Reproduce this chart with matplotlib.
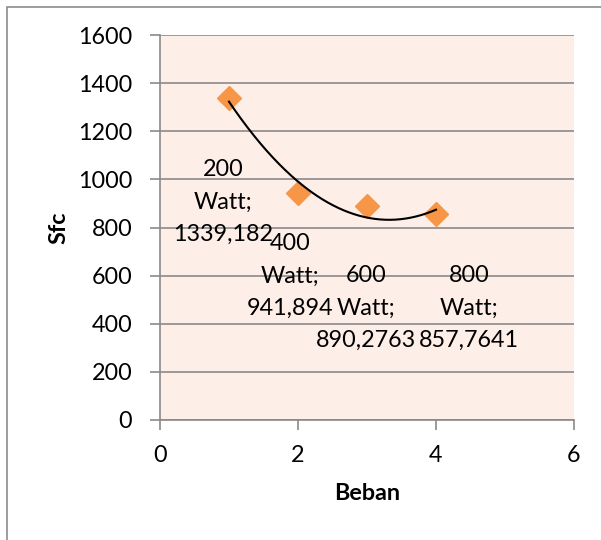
import numpy as np
import matplotlib
matplotlib.use("Agg")
import matplotlib.pyplot as plt
from matplotlib.patches import Rectangle

# Data
beban = [1, 2, 3, 4]
sfc = [1339.182, 941.894, 890.2763, 857.7641]
watt = ["200", "400", "600", "800"]
x_ticks = [0, 2, 4, 6]
y_ticks = [0, 200, 400, 600, 800, 1000, 1200, 1400, 1600]

plt.rcParams['font.family'] = ['Lato', 'DejaVu Sans']
FS = 16.8

fig = plt.figure(figsize=(6.01, 5.40), dpi=100)
fig.patch.set_facecolor('white')
# outer chart border (extends beyond right/bottom edges)
fig.add_artist(Rectangle((6.5/601, -0.05), 1.2, 1 - 6.5/540 + 0.05,
                         transform=fig.transFigure, fill=False,
                         edgecolor='#8c8c8c', linewidth=1.2))

ax = fig.add_axes([160/601, 1 - 420/540, (574 - 160)/601, (420 - 35)/540])
ax.set_facecolor('#FDEEE8')
ax.set_xlim(0, 6)
ax.set_ylim(0, 1600)
ax.set_xticks(x_ticks)
ax.set_yticks(y_ticks)
ax.grid(axis='y', color='#8a8a8a', linewidth=1.2)
ax.set_axisbelow(True)
for s in ['top', 'right']:
    ax.spines[s].set_visible(False)
for s in ['left', 'bottom']:
    ax.spines[s].set_color('#8a8a8a')
    ax.spines[s].set_linewidth(1.2)
ax.tick_params(axis='both', direction='out', length=7, width=1.2,
               color='#8a8a8a', labelsize=FS, labelcolor='black')
ax.tick_params(axis='y', pad=13)
ax.tick_params(axis='x', pad=11)

# trendline (polynomial order 2)
coef = np.polyfit(beban, sfc, 2)
xs = np.linspace(min(beban), max(beban), 200)
ax.plot(xs, np.polyval(coef, xs), color='black', linewidth=1.5, zorder=3)

ax.plot(beban, sfc, linestyle='none', marker='D', markersize=12,
        color='#F79646', markeredgecolor='#F79646', zorder=2)

# data labels (positions in data coordinates, layout only)
label_pos = [(0.92, 906), (1.88, 598), (2.99, 465), (4.48, 465)]
line_step = 23.5  # points between label lines
for (lx, ly), w, v in zip(label_pos, watt, sfc):
    lines = [w, "Watt;", str(v).replace('.', ',')]
    for i, t in enumerate(lines):
        ax.annotate(t, xy=(lx, ly), xytext=(0, (1 - i) * line_step),
                    textcoords='offset points', ha='center', va='center',
                    fontsize=FS, zorder=4)

ax.set_xlabel('Beban', fontsize=FS, fontweight='bold', labelpad=12)
ax.set_ylabel('Sfc', fontsize=FS, fontweight='bold', labelpad=6)

fig.savefig('out.png', dpi=100)
